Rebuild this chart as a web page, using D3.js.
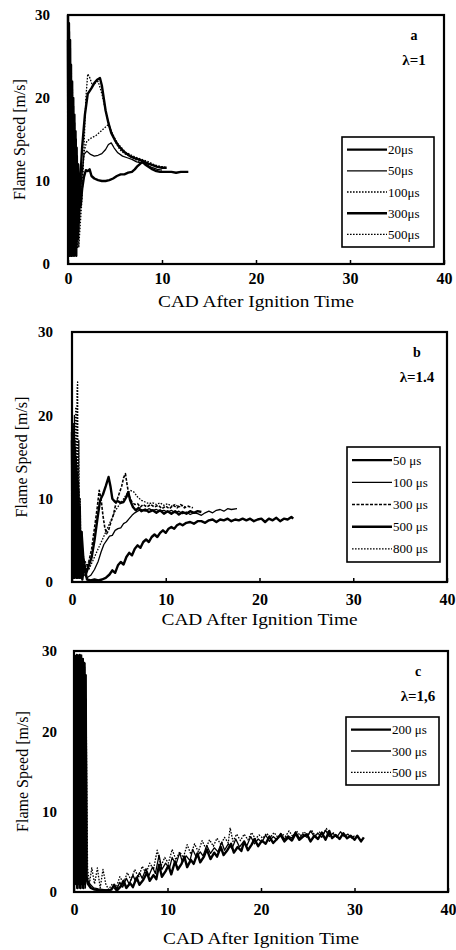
<!DOCTYPE html>
<html><head><meta charset="utf-8">
<script src="https://cdn.jsdelivr.net/npm/d3@7"></script>
<style>body{margin:0;background:#fff}svg{display:block}text{font-family:"Liberation Serif","DejaVu Serif",serif;fill:#000}</style>
</head><body><svg id="c" width="456" height="950"></svg>
<script>
// ---------- tick labels ----------
const xTicks = [0, 10, 20, 30, 40];
const yTicks = [0, 10, 20, 30];
const xTitle = "CAD After Ignition Time";
const yTitle = "Flame Speed [m/s]";

// ---------- panel a (λ=1) ----------
const aLabels = ["20μs", "50μs", "100μs", "300μs", "500μs"];
const a20 = [[0,30],[0.05,2],[0.1,28],[0.15,1],[0.2,26],[0.26,2],[0.32,24],[0.38,1],[0.44,22],[0.5,2],[0.56,20],[0.62,1.5],[0.68,18],[0.74,2],[0.8,16],[0.86,2.5],[0.92,14],[0.98,3],[1.04,12],[1.1,4],[1.2,9],[1.35,7],[1.5,9],[1.7,10.5],[1.9,11.3],[2.1,11.2],[2.3,11.4],[2.5,10.6],[2.8,10.3],[3.2,10.1],[3.6,10],[4,10],[4.4,10.1],[4.8,10.3],[5.2,10.6],[5.6,10.8],[6,10.8],[6.4,11],[6.8,11.1],[7.1,11.4],[7.4,11.8],[7.7,12.1],[7.9,12.3],[8.2,12],[8.6,11.7],[9,11.4],[9.4,11.2],[9.8,11.1],[10.5,11.1],[11,11.1],[11.5,11],[12,11.1],[12.5,11.1],[12.8,11.1]];
const a50 = [[0,29],[0.04,3],[0.09,27],[0.14,2],[0.19,25],[0.24,1],[0.3,23],[0.36,2],[0.42,21],[0.48,1],[0.54,19],[0.6,2],[0.66,17],[0.72,1.5],[0.78,15],[0.84,2],[0.9,13],[0.96,3],[1.02,11],[1.1,3],[1.2,8],[1.35,9],[1.5,11],[1.7,13.2],[2,13.6],[2.4,13.2],[2.8,13],[3.2,13.1],[3.6,13.3],[4,13.8],[4.3,14.4],[4.6,14.6],[4.9,14],[5.3,13.4],[5.8,13],[6.3,12.8],[6.8,12.6],[7.3,12.3],[7.8,12.2],[8.2,12.1],[8.6,11.8],[9,11.6],[9.5,11.4],[10,11.3]];
const a100 = [[0,28],[0.06,1],[0.12,29],[0.18,3],[0.24,25],[0.3,1],[0.36,23],[0.42,3],[0.48,21],[0.54,1],[0.6,19],[0.66,3],[0.72,17],[0.78,1],[0.84,15],[0.9,4],[0.96,13],[1.02,2],[1.1,10],[1.2,5],[1.3,6],[1.5,10],[1.7,13.5],[2,14.8],[2.5,15.2],[3,15.5],[3.5,16],[4,16.5],[4.3,16.8],[4.6,16],[5,14.8],[5.5,13.8],[6,13.3],[6.5,13],[7,12.7],[7.5,12.4],[8,12.3],[8.5,12.2],[9,12],[9.5,11.8],[10,11.7],[10.5,11.6]];
const a300 = [[0,27],[0.05,4],[0.1,29],[0.16,1],[0.22,27],[0.28,3],[0.34,22],[0.4,1],[0.46,20],[0.52,3],[0.58,18],[0.64,1],[0.7,16],[0.76,3],[0.82,15],[0.88,1],[0.94,13],[1,4],[1.08,12],[1.16,5],[1.3,10],[1.5,14],[1.8,18],[2.1,20.5],[2.5,21.2],[2.8,21.8],[3.1,22.2],[3.4,22.4],[3.6,21.5],[3.8,20],[4,18.5],[4.3,17],[4.6,15.8],[5,14.9],[5.4,14.2],[5.8,13.7],[6.2,13.3],[6.6,13],[7,12.8],[7.5,12.6],[8,12.4],[8.5,12.1],[9,11.9],[9.5,11.7],[10,11.6],[10.5,11.6]];
const a500 = [[0,30],[0.07,2],[0.13,27],[0.2,3],[0.27,24],[0.34,1],[0.4,22],[0.47,2],[0.53,19],[0.6,1],[0.67,17],[0.74,2],[0.8,15],[0.87,1],[0.94,13],[1.01,2],[1.08,11],[1.15,2],[1.2,3],[1.5,8],[1.7,14],[1.9,20],[2.1,22.9],[2.3,22.5],[2.6,21.5],[2.9,21.8],[3.2,22],[3.4,21.3],[3.6,20.5],[3.9,19],[4.2,17.5],[4.5,16.3],[4.9,15.3],[5.3,14.5],[5.7,14],[6.1,13.5],[6.6,13.2],[7.1,12.9],[7.6,12.7],[8.1,12.5],[8.6,12.3],[9.1,12],[9.6,11.8],[10.1,11.7],[10.5,11.6]];

// ---------- panel b (λ=1.4) ----------
const bLabels = ["50 μs", "100 μs", "300 μs", "500 μs", "800 μs"];
const b50 = [[0,18],[0.08,1],[0.16,17],[0.24,0.5],[0.32,16],[0.4,1],[0.48,14],[0.56,0.5],[0.64,12],[0.72,1],[0.8,9],[0.9,0.5],[1,6],[1.1,0.3],[1.3,2],[1.6,0.3],[2,0.2],[2.4,0.3],[2.8,0.2],[3.2,0.3],[3.6,0.5],[4,0.9],[4.3,1.4],[4.6,1.1],[4.9,2],[5.2,2.4],[5.5,2.1],[5.8,3],[6.1,3.5],[6.4,3.2],[6.7,4],[7,4.4],[7.3,4.1],[7.6,4.8],[7.9,5.1],[8.2,4.8],[8.5,5.4],[8.8,5.7],[9.1,5.4],[9.4,5.9],[9.7,6.2],[10,5.9],[10.3,6.4],[10.6,6.6],[10.9,6.4],[11.2,6.8],[11.5,7],[11.8,6.8],[12.2,7.1],[12.6,7.2],[13,7],[13.4,7.3],[13.8,7.3],[14.2,7.1],[14.6,7.4],[15,7.5],[15.4,7.2],[15.8,7.5],[16.2,7.4],[16.6,7.6],[17,7.3],[17.4,7.5],[17.8,7.4],[18.2,7.6],[18.6,7.4],[19,7.6],[19.4,7.3],[19.8,7.5],[20.2,7.6],[20.6,7.2],[21,7.6],[21.4,7.4],[21.8,7.7],[22.2,7.3],[22.6,7.6],[23,7.5],[23.4,7.8],[23.6,7.6]];
const b100 = [[0,20],[0.06,0.5],[0.13,19],[0.2,1],[0.27,17],[0.34,0.5],[0.41,15],[0.48,1.5],[0.55,13],[0.62,0.5],[0.7,11],[0.78,1],[0.86,8],[0.95,0.5],[1.05,4],[1.2,1],[1.6,0.5],[2,0.8],[2.4,1.5],[2.8,2.5],[3.1,3.6],[3.4,4.5],[3.7,5],[4,5.5],[4.3,5.6],[4.6,6.2],[4.9,6.4],[5.2,6.5],[5.5,7],[5.8,7.2],[6.1,7.6],[6.4,8],[6.7,8.3],[7,8.5],[7.4,8.7],[7.8,8.5],[8.2,8.8],[8.6,8.6],[9,8.7],[9.4,8.5],[9.8,8.6],[10.2,8.4],[10.6,8.6],[11,8.3],[11.4,8.5],[11.8,8.2],[12.2,8.4],[12.6,8.1],[13,8.3],[13.4,8.2],[13.8,8],[14.2,8.3],[14.6,8.5],[15,8.3],[15.4,8.6],[15.8,8.7],[16.2,8.5],[16.6,8.8],[17,8.7],[17.6,8.8]];
const b300 = [[0,19],[0.07,2],[0.14,18],[0.21,0.5],[0.28,16],[0.35,2],[0.42,15],[0.49,0.5],[0.56,13],[0.63,2],[0.7,10],[0.78,0.5],[0.86,7],[0.95,1.5],[1.05,5],[1.2,2],[1.5,1.5],[1.8,2.5],[2.1,4],[2.4,6.5],[2.7,9],[2.9,11],[3.1,10],[3.3,8],[3.5,6.5],[3.7,5.8],[3.9,6.2],[4.1,7],[4.4,8],[4.7,9.5],[5,10.5],[5.3,11.5],[5.5,12.5],[5.7,13],[5.9,11.5],[6.1,10.3],[6.4,9.6],[6.7,9.3],[7,9.4],[7.3,9],[7.6,9.3],[8,9],[8.4,9.3],[8.8,9],[9.2,9.2],[9.6,8.8],[10,9.1],[10.4,8.8],[10.8,9.2],[11.2,8.9],[11.6,9.3],[12,8.9],[12.4,9.1],[12.9,8.9]];
const b500 = [[0,17],[0.05,1],[0.11,18],[0.18,0.5],[0.25,17],[0.32,1],[0.39,15],[0.46,0.5],[0.53,13],[0.6,1],[0.67,11],[0.75,0.5],[0.83,9],[0.92,1],[1.02,6],[1.2,3],[1.5,1],[1.8,2],[2.1,3],[2.4,5],[2.7,7.5],[3,9.8],[3.3,10.5],[3.6,11.5],[3.9,12.6],[4.1,11.5],[4.3,10],[4.6,9.6],[4.9,9.7],[5.2,9.5],[5.5,9.6],[5.8,10.2],[6,10.8],[6.2,9.8],[6.5,9],[6.8,8.6],[7.1,8.9],[7.4,8.5],[7.8,8.7],[8.2,8.4],[8.6,8.6],[9,8.3],[9.4,8.6],[9.8,8.2],[10.2,8.5],[10.6,8.2],[11,8.5],[11.4,8.1],[11.8,8.4],[12.2,8.2],[12.6,8.5],[13,8.3],[13.4,8.5],[13.8,8.4]];
const b800 = [[0,20],[0.06,2],[0.12,19],[0.19,1],[0.26,20],[0.33,2],[0.4,21],[0.47,1],[0.54,23],[0.6,24],[0.66,2],[0.73,17],[0.8,1],[0.88,10],[0.95,1],[1.1,2],[1.4,2.5],[1.8,1.5],[2.2,2.5],[2.6,3.5],[3,4.5],[3.4,5.5],[3.8,6.5],[4.2,7.5],[4.6,8.5],[5,9.2],[5.4,9.8],[5.8,10.5],[6.2,11],[6.6,10.8],[7,10.2],[7.4,9.8],[7.8,9.6],[8.2,9.4],[8.6,9.5],[9,9.3],[9.4,9.5],[9.8,9.2],[10.2,9.4],[10.6,9.1],[11,9.3],[11.4,9],[11.8,9.2],[12.2,8.9]];

// ---------- panel c (λ=1.6) ----------
const cLabels = ["200 μs", "300 μs", "500 μs"];
const c200 = [[0.15,29.5],[0.22,1],[0.3,29.5],[0.38,0.5],[0.46,29],[0.54,1],[0.62,29.5],[0.7,0.5],[0.78,29],[0.86,1],[0.94,29],[1.02,0.5],[1.1,28.5],[1.18,1],[1.25,27],[1.32,2],[1.5,1],[1.8,0.5],[2.2,0.3],[2.8,0.2],[3.4,0.2],[4,0.3],[4.3,0.9],[4.6,0.2],[5,0.7],[5.3,1.4],[5.6,0.5],[6,1.1],[6.3,0.6],[6.7,1.8],[7,0.9],[7.4,1.5],[7.8,2.4],[8.1,1.4],[8.5,2.1],[8.8,1.6],[9.1,3.4],[9.4,1.9],[9.8,2.6],[10.1,3.3],[10.4,2.2],[10.8,3.8],[11.1,2.8],[11.5,3.5],[11.8,4.4],[12.1,3.1],[12.5,4],[12.8,3.5],[13.2,4.8],[13.5,3.7],[13.9,4.4],[14.2,5.3],[14.6,4.1],[15,4.9],[15.3,4.4],[15.7,5.6],[16,4.6],[16.4,5.2],[16.8,6],[17.1,4.9],[17.5,5.6],[17.9,5.1],[18.2,6.3],[18.6,5.2],[19,5.9],[19.3,6.6],[19.7,5.7],[20.1,6.4],[20.5,6],[20.9,6.9],[21.3,6.1],[21.7,6.6],[22.1,7.1],[22.5,6.3],[22.9,6.8],[23.3,6.4],[23.7,7.3],[24.1,6.5],[24.5,6.9],[24.9,7.2],[25.3,6.3],[25.7,7],[26.1,6.6],[26.5,7.4],[26.9,6.5],[27.3,7.6],[27.6,6.7],[28,7.1],[28.4,6.6],[28.8,7.3],[29.2,6.7],[29.6,7],[30,6.5],[30.3,7],[30.7,6.3],[31,6.8]];
const c300 = [[0.18,29],[0.26,0.5],[0.34,29.5],[0.42,1],[0.5,29.5],[0.58,0.5],[0.66,29],[0.74,1],[0.82,29.5],[0.9,0.5],[0.98,29],[1.06,1],[1.14,28],[1.22,0.5],[1.3,24],[1.4,1.5],[1.7,1],[2.1,0.5],[2.6,0.4],[3.2,0.3],[3.8,0.2],[4.2,0.6],[4.5,0.2],[4.9,1.2],[5.2,0.6],[5.6,1.7],[5.9,1],[6.3,2.1],[6.6,1.3],[7,2.4],[7.3,1.7],[7.7,2.9],[8,2],[8.4,3.1],[8.7,2.3],[9.1,4.6],[9.4,2.8],[9.8,3.6],[10.2,2.9],[10.5,4.3],[10.9,3.4],[11.3,4.9],[11.6,3.7],[12,4.5],[12.4,3.9],[12.7,5.3],[13.1,4.3],[13.5,5],[13.8,4.5],[14.2,5.8],[14.6,4.8],[15,5.5],[15.4,5],[15.8,6.2],[16.1,5.2],[16.5,6],[16.9,5.4],[17.3,6.6],[17.7,5.6],[18.1,6.2],[18.5,5.8],[18.9,6.9],[19.3,6],[19.7,6.6],[20.1,6.2],[20.5,7.1],[20.9,6.3],[21.3,6.9],[21.7,6.5],[22.1,7.3],[22.5,6.6],[22.9,7],[23.3,6.7],[23.7,7.5],[24.1,6.7],[24.5,7.2],[24.9,6.8],[25.3,7.6],[25.7,6.9],[26.1,7.3],[26.5,6.8],[26.9,7.7],[27.3,6.9],[27.7,7.3],[28.1,6.8],[28.5,7.5],[28.9,6.9],[29.3,7.2],[29.7,6.7],[30,7]];
const c500 = [[0.2,29.5],[0.28,2],[0.36,29],[0.44,1.5],[0.52,29.5],[0.6,2],[0.68,29.5],[0.76,1.5],[0.84,29],[0.92,2],[1,29],[1.08,1.5],[1.16,28.5],[1.24,2],[1.32,20],[1.45,3],[1.65,1],[1.9,3],[2.2,1],[2.5,3],[2.8,0.5],[3.1,2.8],[3.4,1],[3.7,0.3],[4.1,1],[4.5,0.5],[4.9,1.9],[5.3,1.1],[5.7,2.4],[6.1,1.5],[6.5,2.8],[6.9,1.8],[7.3,3.2],[7.7,2.3],[8.1,3.6],[8.5,2.8],[8.9,5.2],[9.3,3.2],[9.7,4.3],[10.1,3.6],[10.5,5.3],[10.9,4],[11.3,5],[11.7,4.3],[12.1,5.9],[12.5,4.7],[12.9,6],[13.3,5],[13.7,6.4],[14.1,5.4],[14.5,6.5],[14.9,5.7],[15.3,6.7],[15.7,5.9],[16.1,6.8],[16.5,6.1],[16.7,8],[17,6.3],[17.4,7.2],[17.8,6.4],[18.2,7.2],[18.6,6.5],[19,7.4],[19.4,6.6],[19.8,7.1],[20.2,6.7],[20.6,7.3],[21,6.8],[21.4,7.4],[21.8,6.8],[22.2,7.3],[22.6,6.9],[23,7.6],[23.4,6.9],[23.8,7.6],[24.2,7],[24.6,7.5],[25,7],[25.4,7.7],[25.8,7],[26.2,7.5],[26.6,7.1],[27,7.9],[27.4,7],[27.8,7.4]];

// ---------- build ----------
const svg = d3.select("#c");
const styles = {
  thick: {w: 2.4, dash: null},
  thin:  {w: 1.3, dash: null},
  dot:   {w: 1.3, dash: "1.6,1.4"},
  dash:  {w: 1.6, dash: "3,1.5"}
};

const panels = [
  {box: [68, 444, 15, 264], tag: "a", lam: "λ=1", series: [a20, a50, a100, a300, a500], labels: aLabels,
   st: ["thick", "thin", "dot", "thick", "dot"], legend: [342, 434, 137, 247], ytl: 50, ytx: 21, tickDy: 23, titleY: 307},
  {box: [72, 447, 332, 582], tag: "b", lam: "λ=1.4", series: [b50, b100, b300, b500, b800], labels: bLabels,
   st: ["thick", "thin", "dash", "thick", "dot"], legend: [347, 440, 447, 562], ytl: 53, ytx: 23, tickDy: 26, titleY: 625},
  {box: [74, 448, 651, 892], tag: "c", lam: "λ=1,6", series: [c200, c300, c500], labels: cLabels,
   st: ["thick", "thin", "dot"], legend: [346, 439, 717, 785], ytl: 57, ytx: 24, tickDy: 26, titleY: 944}
];

panels.forEach(p => {
  const [L, R, T, B] = p.box;
  const x = d3.scaleLinear().domain([0, 40]).range([L, R]);
  const y = d3.scaleLinear().domain([0, 30]).range([B, T]);
  const g = svg.append("g");

  // curves
  const line = d3.line().x(d => x(d[0])).y(d => y(d[1]));
  p.series.forEach((s, i) => {
    const st = styles[p.st[i]];
    g.append("path").attr("d", line(s)).attr("fill", "none").attr("stroke", "#000")
      .attr("stroke-width", st.w).attr("stroke-dasharray", st.dash).attr("stroke-linejoin", "round");
  });

  // frame
  g.append("rect").attr("x", L).attr("y", T).attr("width", R - L).attr("height", B - T)
    .attr("fill", "none").attr("stroke", "#000").attr("stroke-width", 2.2);

  // bottom axis: inner ticks + labels
  const xa = d3.axisBottom(x).tickValues(xTicks).tickSize(-4).tickPadding(p.tickDy - 14).tickFormat(d3.format("d"));
  const gx = g.append("g").attr("transform", `translate(0,${B})`).call(xa);
  gx.select(".domain").remove();
  gx.selectAll("line").attr("stroke-width", 1.5);
  gx.selectAll("text").attr("font-size", 16).attr("font-weight", "bold").attr("font-family", "Liberation Serif").attr("fill", "#000");

  // left axis: labels only
  const ya = d3.axisLeft(y).tickValues(yTicks).tickSize(0).tickPadding(L - p.ytl).tickFormat(d3.format("d"));
  const gy = g.append("g").attr("transform", `translate(${L},0)`).call(ya);
  gy.select(".domain").remove();
  gy.selectAll("text").attr("font-size", 15).attr("font-weight", "bold").attr("font-family", "Liberation Serif").attr("fill", "#000");

  // titles
  g.append("text").attr("x", (L + R) / 2).attr("y", p.titleY).attr("text-anchor", "middle")
    .attr("font-size", 17).attr("textLength", 196).attr("lengthAdjust", "spacingAndGlyphs").text(xTitle);
  g.append("text").attr("transform", `translate(${p.ytx},${(T + B) / 2}) rotate(-90)`)
    .attr("text-anchor", "middle").attr("dominant-baseline", "middle").attr("font-size", 16).text(yTitle);

  // annotation
  g.append("text").attr("x", R - 30).attr("y", T + 25).attr("text-anchor", "middle")
    .attr("font-size", 14).attr("font-weight", "bold").text(p.tag);
  g.append("text").attr("x", R - 30).attr("y", T + 50).attr("text-anchor", "middle")
    .attr("font-size", 15).attr("font-weight", "bold").text(p.lam);

  // legend
  const [lx0, lx1, ly0, ly1] = p.legend;
  g.append("rect").attr("x", lx0).attr("y", ly0).attr("width", lx1 - lx0).attr("height", ly1 - ly0)
    .attr("fill", "#fff").attr("stroke", "#000").attr("stroke-width", 1.6);
  const n = p.labels.length;
  const ls = d3.scaleBand().domain(d3.range(n)).range([ly0 + 2, ly1 - 2]);
  p.labels.forEach((lab, i) => {
    const cy = ls(i) + ls.bandwidth() / 2;
    const st = styles[p.st[i]];
    g.append("line").attr("x1", lx0 + 5).attr("x2", lx0 + 45).attr("y1", cy).attr("y2", cy)
      .attr("stroke", "#000").attr("stroke-width", st.w).attr("stroke-dasharray", st.dash);
    g.append("text").attr("x", lx0 + 46).attr("y", cy).attr("dominant-baseline", "central")
      .attr("font-size", 13).text(lab);
  });
});
</script></body></html>
